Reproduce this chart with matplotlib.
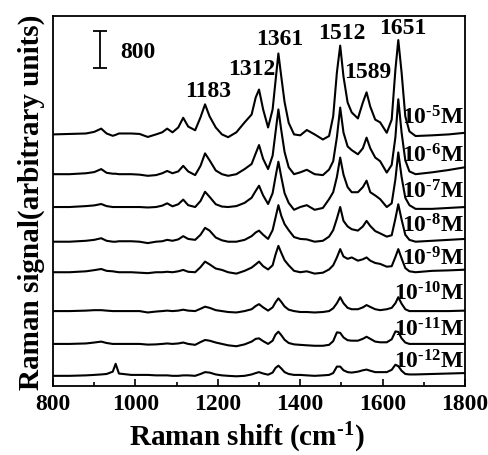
import matplotlib
matplotlib.use("Agg")
import matplotlib.pyplot as plt
from matplotlib.ticker import MultipleLocator

plt.rcParams['font.family'] = ['Liberation Serif', 'DejaVu Serif']
plt.rcParams['font.weight'] = 'bold'
plt.rcParams['mathtext.fontset'] = 'custom'
plt.rcParams['mathtext.rm'] = 'Liberation Serif:bold'
plt.rcParams['mathtext.it'] = 'Liberation Serif:bold'
plt.rcParams['mathtext.bf'] = 'Liberation Serif:bold'
plt.rcParams['mathtext.default'] = 'rm'

# Raman shift grid (cm-1)
wavenumber = [800, 840, 880, 900, 917, 930, 945, 952, 960, 990,
              1010, 1030, 1050, 1065, 1077, 1090, 1104, 1116, 1128, 1145,
              1158, 1169, 1180, 1195, 1210, 1225, 1245, 1265, 1282, 1292,
              1300, 1310, 1322, 1333, 1340, 1347, 1354, 1362, 1372, 1385,
              1400, 1416, 1435, 1455, 1470, 1480, 1489, 1497, 1505, 1515,
              1525, 1540, 1552, 1561, 1570, 1582, 1594, 1610, 1622, 1631,
              1638, 1646, 1655, 1665, 1680, 1720, 1760, 1800]

# intensities above each baseline (counts)
s_1e5 = [0, 10, 20, 55, 125, 20, -30, -10, 20, 20,
         10, -55, 0, 45, 125, 45, 150, 360, 170, 90,
         370, 650, 390, 150, 0, -60, 45, 260, 430, 800,
         970, 540, 150, 540, 1150, 1750, 1250, 700, 250, 0,
         -20, 95, 0, -110, -35, 390, 1340, 1920, 1250, 690,
         475, 345, 690, 910, 600, 320, 260, 35, 320, 1400,
         2040, 1340, 390, 65, -35, -20, 0, 35]
s_1e6 = [0, 0, 20, 45, 110, 30, 10, 10, 0, 0,
         -10, -35, -20, 20, 70, 20, 60, 180, 60, -20,
         180, 450, 300, 80, 0, -35, 0, 110, 220, 450,
         630, 330, 110, 400, 900, 1400, 950, 480, 150, 0,
         40, 95, 0, -20, 100, 280, 800, 1440, 900, 600,
         520, 430, 560, 790, 560, 360, 280, 35, 200, 800,
         1620, 900, 300, 60, 0, 40, 90, 150]
s_1e7 = [0, 0, 20, 35, 65, 20, 0, 0, 0, 0,
         0, -10, 0, 30, 80, 15, 60, 160, 40, 0,
         130, 330, 220, 60, 10, 0, 20, 90, 200, 350,
         460, 250, 65, 300, 650, 980, 650, 300, 90, -60,
         0, 40, -60, -20, 170, 320, 650, 1070, 700, 430,
         320, 320, 430, 570, 320, 250, 170, 0, 80, 600,
         1180, 650, 200, 40, -40, -40, -20, 0]
s_1e8 = [0, 0, 20, 40, 75, 20, 0, 0, 10, 10,
         0, -30, 0, 10, 40, 20, 50, 120, 60, 40,
         150, 300, 240, 90, 30, 0, 0, 40, 120, 200,
         240, 150, 60, 250, 520, 790, 560, 380, 250, 100,
         60, 50, 0, 20, 110, 250, 500, 750, 450, 330,
         270, 240, 330, 450, 340, 230, 180, 110, 140, 500,
         810, 480, 150, 40, 0, 20, 40, 60]
s_1e9 = [0, 0, 20, 45, 70, 30, 20, 10, 0, 0,
         -10, -20, 0, 0, 10, 0, 20, 50, 10, 0,
         110, 230, 170, 80, 50, 0, -30, 30, 100, 170,
         230, 130, 60, 150, 380, 570, 420, 260, 150, 30,
         0, 20, -30, -10, 60, 150, 320, 500, 340, 290,
         320, 250, 280, 320, 250, 200, 180, 120, 130, 330,
         500, 300, 90, 20, 0, 30, 40, 55]
s_1e10 = [0, 0, 10, 20, 20, 10, 0, 0, 0, 0,
          0, -30, -10, 0, 10, 0, 10, 30, 10, 0,
          50, 95, 70, 20, 0, -20, -30, 0, 40, 110,
          150, 80, 10, 80, 190, 275, 200, 100, 30, 0,
          -20, -20, -30, -20, 0, 60, 170, 300, 170, 70,
          40, 40, 80, 130, 90, 40, 20, 40, 70, 170,
          300, 160, 40, 0, 0, 0, 0, 10]
s_1e11 = [0, 0, 10, 30, 50, 20, 0, 0, 0, 0,
          0, -15, -10, 0, 10, 0, 10, 30, 0, -20,
          40, 85, 70, 30, 0, -30, -50, -10, 50, 110,
          120, 60, 0, 70, 200, 265, 190, 90, 20, -10,
          -20, -30, -40, -40, -20, 60, 250, 240, 140, 80,
          70, 70, 110, 155, 110, 50, 35, 35, 100, 270,
          260, 120, 30, 0, 0, 0, 0, 0]
s_1e12 = [0, 0, 10, 20, 30, 40, 90, 260, 50, 20,
          20, 20, 10, 10, 10, 0, 0, 10, 10, 0,
          40, 80, 70, 30, 10, 0, -10, 0, 30, 60,
          80, 50, 25, 70, 170, 220, 160, 80, 40, 20,
          20, 10, 0, 10, 20, 60, 200, 200, 120, 80,
          70, 90, 120, 135, 110, 80, 80, 80, 130, 240,
          210, 110, 40, 30, 30, 40, 50, 60]

spectra = [s_1e5, s_1e6, s_1e7, s_1e8, s_1e9, s_1e10, s_1e11, s_1e12]
offsets = [5440, 4580, 3870, 3120, 2460, 1620, 910, 220]
conc_labels = ["10$^{\u20105}$M", "10$^{\u20106}$M", "10$^{\u20107}$M",
               "10$^{\u20108}$M", "10$^{\u20109}$M", "10$^{\u201010}$M",
               "10$^{\u201011}$M", "10$^{\u201012}$M"]
label_y = [5680, 4860, 4080, 3330, 2635, 1880, 1100, 410]

peak_names = ["1183", "1312", "1361", "1512", "1589", "1651"]
peak_x = [1176, 1283, 1351, 1501, 1565, 1649]
peak_y = [6264, 6740, 7390, 7520, 6675, 7625]

fig = plt.figure(figsize=(4.89, 4.56), dpi=100)
ax = fig.add_axes([0.1084, 0.1513, 0.8426, 0.8114])

for spec, off, lab, ly in zip(spectra, offsets, conc_labels, label_y):
    ax.plot(wavenumber, [v + off for v in spec], color="black", lw=1.5)
    ax.text(1797, ly, lab, ha="right", va="baseline", fontsize=17)

for name, px, py in zip(peak_names, peak_x, peak_y):
    ax.text(px, py, name, ha="center", va="baseline", fontsize=17)

# scale bar (800 counts)
ax.errorbar([914], [7268], yerr=[400], fmt="none", ecolor="black",
            elinewidth=1.3, capsize=4.7, capthick=1.3)
ax.text(963, 7106, "800", ha="left", va="baseline", fontsize=17)

ax.set_xlim(800, 1800)
ax.set_ylim(0, 8000)
ax.set_yticks([])
ax.xaxis.set_major_locator(MultipleLocator(200))
ax.xaxis.set_minor_locator(MultipleLocator(100))
ax.tick_params(axis="x", which="both", direction="in", top=False,
               labelsize=17, pad=5, width=1.2)
ax.tick_params(axis="x", which="major", length=5)
ax.tick_params(axis="x", which="minor", length=3)
for sp in ax.spines.values():
    sp.set_linewidth(1.3)

ax.set_xlabel("Raman shift (cm$^{\u20101}$)", fontsize=21, fontweight="bold")
ax.xaxis.set_label_coords(0.471, -0.138, transform=ax.transAxes)
ax.xaxis.label.set_va("center")
ax.set_ylabel("Raman signal(arbitrary units)", fontsize=21,
              fontweight="bold", labelpad=6)

fig.savefig("out.png", dpi=100)
